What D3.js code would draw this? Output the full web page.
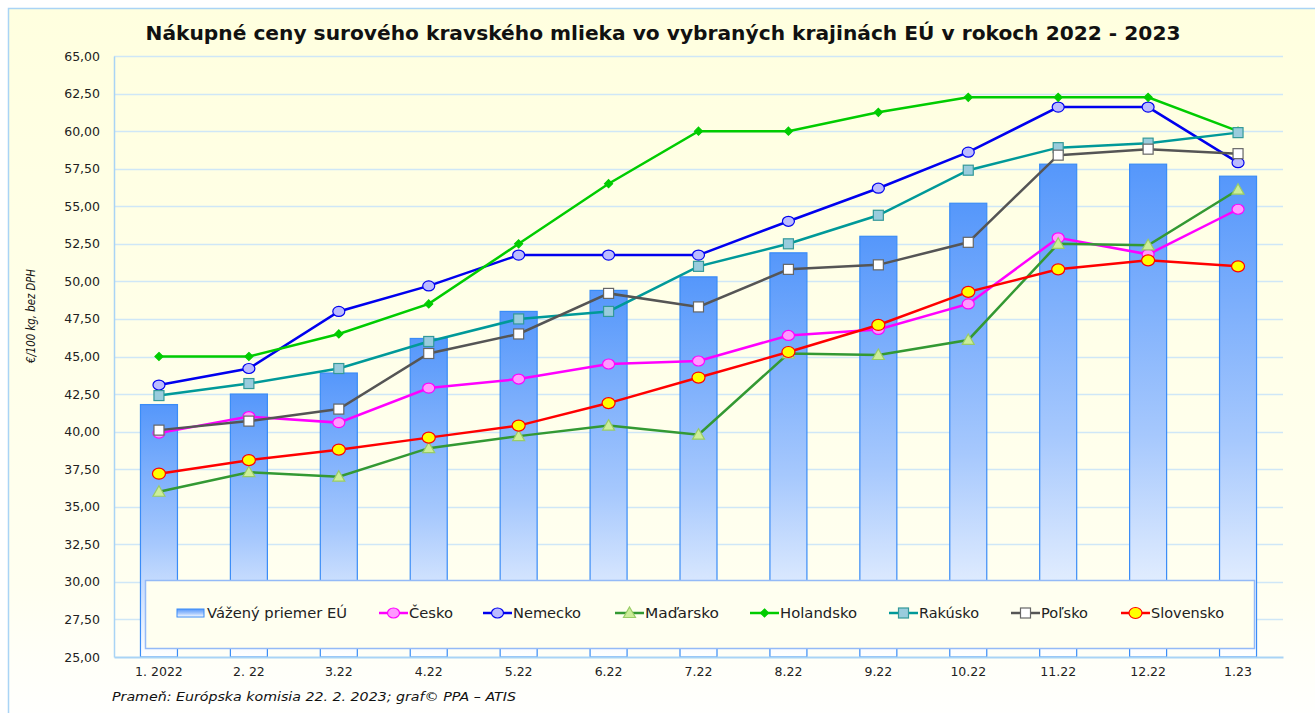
<!DOCTYPE html>
<html>
<head>
<meta charset="utf-8">
<script src="https://cdn.jsdelivr.net/npm/d3@7"></script>
<style>
  body { margin: 0; background: #ffffff; }
  svg { display: block; }
</style>
</head>
<body>
<svg id="chart" width="1315" height="713"></svg>
<script>
/*
 * Chart data
 */
var months = ['1. 2022', '2. 22', '3.22', '4.22', '5.22', '6.22', '7.22', '8.22', '9.22', '10.22', '11.22', '12.22', '1.23'];
var euAverage = [41.8, 42.5, 43.9, 46.2, 48.0, 49.4, 50.3, 51.9, 53.0, 55.2, 57.8, 57.8, 57.0];
var cesko     = [39.9, 41.0, 40.6, 42.9, 43.5, 44.5, 44.7, 46.4, 46.8, 48.5, 52.9, 51.8, 54.8];
var nemecko   = [43.1, 44.2, 48.0, 49.7, 51.75, 51.75, 51.75, 54.0, 56.2, 58.6, 61.6, 61.6, 57.9];
var madarsko  = [36.0, 37.3, 37.0, 38.9, 39.7, 40.4, 39.8, 45.2, 45.1, 46.1, 52.5, 52.4, 56.1];
var holandsko = [45.0, 45.0, 46.5, 48.5, 52.5, 56.5, 60.0, 60.0, 61.25, 62.25, 62.25, 62.25, 60.0];
var rakusko   = [42.4, 43.2, 44.2, 46.0, 47.5, 48.0, 51.0, 52.5, 54.4, 57.4, 58.9, 59.2, 59.9];
var polsko    = [40.1, 40.7, 41.5, 45.2, 46.5, 49.2, 48.3, 50.8, 51.1, 52.6, 58.4, 58.8, 58.5];
var slovensko = [37.2, 38.1, 38.8, 39.6, 40.4, 41.9, 43.6, 45.3, 47.1, 49.3, 50.8, 51.4, 51.0];
var yTicks = [25, 27.5, 30, 32.5, 35, 37.5, 40, 42.5, 45, 47.5, 50, 52.5, 55, 57.5, 60, 62.5, 65];

// line series in legend / drawing order
var series = [
  {name: 'Česko',     values: cesko,     line: '#ff00ff', fill: '#ff99ff', stroke: '#ff00ff', marker: 'ellipse', w: 6, h: 5},
  {name: 'Nemecko',   values: nemecko,   line: '#0000ee', fill: '#bbbbff', stroke: '#0000ee', marker: 'ellipse', w: 6, h: 5},
  {name: 'Maďarsko',  values: madarsko,  line: '#339933', fill: '#ccee99', stroke: '#99cc66', marker: 'triangle', w: 6, h: 6},
  {name: 'Holandsko', values: holandsko, line: '#00cc00', fill: '#00cc00', stroke: '#00cc00', marker: 'diamond', w: 4, h: 4},
  {name: 'Rakúsko',   values: rakusko,   line: '#009999', fill: '#99ccdd', stroke: '#339999', marker: 'square', w: 5, h: 5},
  {name: 'Poľsko',    values: polsko,    line: '#555555', fill: '#ffffff', stroke: '#666666', marker: 'square', w: 5, h: 5},
  {name: 'Slovensko', values: slovensko, line: '#ff0000', fill: '#ffff00', stroke: '#ff0000', marker: 'ellipse', w: 6.5, h: 5.5}
];

var FONT = '"DejaVu Sans", Verdana, sans-serif';

var svg = d3.select('#chart');
var defs = svg.append('defs');

// frame background gradient (pale yellow to white)
var frameGrad = defs.append('linearGradient').attr('id', 'frameGrad')
  .attr('x1', 0).attr('y1', 0).attr('x2', 0).attr('y2', 1);
frameGrad.append('stop').attr('offset', '0%').attr('stop-color', '#ffffdf');
frameGrad.append('stop').attr('offset', '80%').attr('stop-color', '#fffff0');
frameGrad.append('stop').attr('offset', '100%').attr('stop-color', '#ffffff');

// bar gradient (blue to white)
var barGrad = defs.append('linearGradient').attr('id', 'barGrad')
  .attr('x1', 0).attr('y1', 0).attr('x2', 0).attr('y2', 1);
barGrad.append('stop').attr('offset', '0%').attr('stop-color', '#5597fb');
barGrad.append('stop').attr('offset', '55%').attr('stop-color', '#a6c8fd');
barGrad.append('stop').attr('offset', '100%').attr('stop-color', '#ffffff');

// outer frame
svg.append('rect').attr('x', 8.5).attr('y', 8.5).attr('width', 1320).attr('height', 720)
  .attr('fill', 'url(#frameGrad)').attr('stroke', '#a9d4f5').attr('stroke-width', 1.5);

var margin = {left: 114, right: 1283, top: 56, bottom: 657};

var x = d3.scaleBand().domain(months).range([margin.left, margin.right]).paddingInner(0).paddingOuter(0);
var y = d3.scaleLinear().domain([25, 65]).range([margin.bottom, margin.top]);

// title
svg.append('text')
  .attr('x', 663).attr('y', 40)
  .attr('text-anchor', 'middle')
  .attr('font-family', FONT).attr('font-weight', 'bold').attr('font-size', 19)
  .attr('fill', '#111')
  .attr('textLength', 1035).attr('lengthAdjust', 'spacingAndGlyphs')
  .text('Nákupné ceny surového kravského mlieka vo vybraných krajinách EÚ v rokoch 2022 - 2023');

// horizontal gridlines
svg.append('g').selectAll('line').data(yTicks.slice(1)).join('line')
  .attr('x1', margin.left).attr('x2', margin.right)
  .attr('y1', function (d) { return Math.round(y(d)) + 0.5; })
  .attr('y2', function (d) { return Math.round(y(d)) + 0.5; })
  .attr('stroke', '#cfe7f7').attr('stroke-width', 1.5);

// y axis
var yAxis = d3.axisLeft(y).tickValues(yTicks).tickSize(0).tickPadding(14)
  .tickFormat(function (d) { return d3.format('.2f')(d).replace('.', ','); });
var yG = svg.append('g').attr('transform', 'translate(' + margin.left + ',0)').call(yAxis);
yG.select('.domain').attr('stroke', '#a9d4f5').attr('stroke-width', 1.5);
yG.selectAll('text').attr('font-family', FONT).attr('font-size', 12.5).attr('fill', '#222');

// y axis title
svg.append('text')
  .attr('transform', 'translate(35,316) rotate(-90)')
  .attr('text-anchor', 'middle')
  .attr('font-family', FONT).attr('font-style', 'italic').attr('font-size', 11.5)
  .attr('fill', '#111')
  .attr('textLength', 94).attr('lengthAdjust', 'spacingAndGlyphs')
  .text('€/100 kg, bez DPH');

// bars - weighted EU average
var barW = 37;
svg.append('g').selectAll('rect').data(euAverage).join('rect')
  .attr('x', function (d, i) { return x(months[i]) + x.bandwidth() / 2 - barW / 2; })
  .attr('y', function (d) { return y(d); })
  .attr('width', barW)
  .attr('height', function (d) { return y(25) - y(d); })
  .attr('fill', 'url(#barGrad)')
  .attr('stroke', '#3a8cf7').attr('stroke-width', 1.2);

// x axis
var xAxis = d3.axisBottom(x).tickSize(0).tickPadding(10);
var xG = svg.append('g').attr('transform', 'translate(0,' + margin.bottom + ')').call(xAxis);
xG.select('.domain').attr('stroke', '#a9d4f5').attr('stroke-width', 2);
xG.selectAll('text').attr('font-family', FONT).attr('font-size', 12.5).attr('fill', '#222');

/**
 * draw one marker shape centered at (cx, cy)
 */
function drawMarker(g, s, cx, cy) {
  var m;
  if (s.marker == 'ellipse') {
    m = g.append('ellipse').attr('cx', cx).attr('cy', cy).attr('rx', s.w).attr('ry', s.h);
  } else if (s.marker == 'square') {
    m = g.append('rect').attr('x', cx - s.w).attr('y', cy - s.h).attr('width', s.w * 2).attr('height', s.h * 2);
  } else if (s.marker == 'diamond') {
    m = g.append('path').attr('d', 'M' + cx + ',' + (cy - s.h) + 'L' + (cx + s.w) + ',' + cy +
      'L' + cx + ',' + (cy + s.h) + 'L' + (cx - s.w) + ',' + cy + 'Z');
  } else {
    m = g.append('path').attr('d', 'M' + cx + ',' + (cy - s.h) + 'L' + (cx + s.w) + ',' + (cy + s.h * 0.75) +
      'L' + (cx - s.w) + ',' + (cy + s.h * 0.75) + 'Z');
  }
  m.attr('fill', s.fill).attr('stroke', s.stroke).attr('stroke-width', 1.2);
}

// lines with markers
var lineGen = d3.line()
  .x(function (d, i) { return x(months[i]) + x.bandwidth() / 2; })
  .y(function (d) { return y(d); });

series.forEach(function (s) {
  var g = svg.append('g');
  g.append('path').datum(s.values).attr('d', lineGen)
    .attr('fill', 'none').attr('stroke', s.line).attr('stroke-width', 2.5);
  s.values.forEach(function (v, i) {
    drawMarker(g, s, x(months[i]) + x.bandwidth() / 2, y(v));
  });
});

// legend box
svg.append('rect').attr('x', 145.5).attr('y', 580.5).attr('width', 1109).attr('height', 68)
  .attr('fill', '#fffff0').attr('stroke', '#94baf7').attr('stroke-width', 1.5);

var legendY = 613;
var lg = svg.append('g');
// bar swatch
lg.append('rect').attr('x', 177).attr('y', legendY - 4).attr('width', 27).attr('height', 8)
  .attr('fill', 'url(#barGrad)').attr('stroke', '#3a8cf7').attr('stroke-width', 1);
lg.append('text').attr('x', 207).attr('y', legendY + 5)
  .attr('font-family', FONT).attr('font-size', 14).attr('fill', '#222')
  .attr('textLength', 140).attr('lengthAdjust', 'spacingAndGlyphs')
  .text('Vážený priemer EÚ');

var legendX = [379, 483, 615, 750, 889, 1011, 1121];
var legendW = [44, 68, 74, 77, 60, 47, 73];
series.forEach(function (s, i) {
  var lx = legendX[i];
  lg.append('line').attr('x1', lx).attr('x2', lx + 29).attr('y1', legendY).attr('y2', legendY)
    .attr('stroke', s.line).attr('stroke-width', 2.5);
  drawMarker(lg, s, lx + 14.5, legendY);
  lg.append('text').attr('x', lx + 30).attr('y', legendY + 5)
    .attr('font-family', FONT).attr('font-size', 14).attr('fill', '#222')
    .attr('textLength', legendW[i]).attr('lengthAdjust', 'spacingAndGlyphs')
    .text(s.name);
});

// source note
svg.append('text').attr('x', 112).attr('y', 701)
  .attr('font-family', FONT).attr('font-style', 'italic').attr('font-size', 13).attr('fill', '#111')
  .attr('textLength', 404).attr('lengthAdjust', 'spacingAndGlyphs')
  .text('Prameň: Európska komisia 22. 2. 2023; graf© PPA – ATIS');
</script>
</body>
</html>
